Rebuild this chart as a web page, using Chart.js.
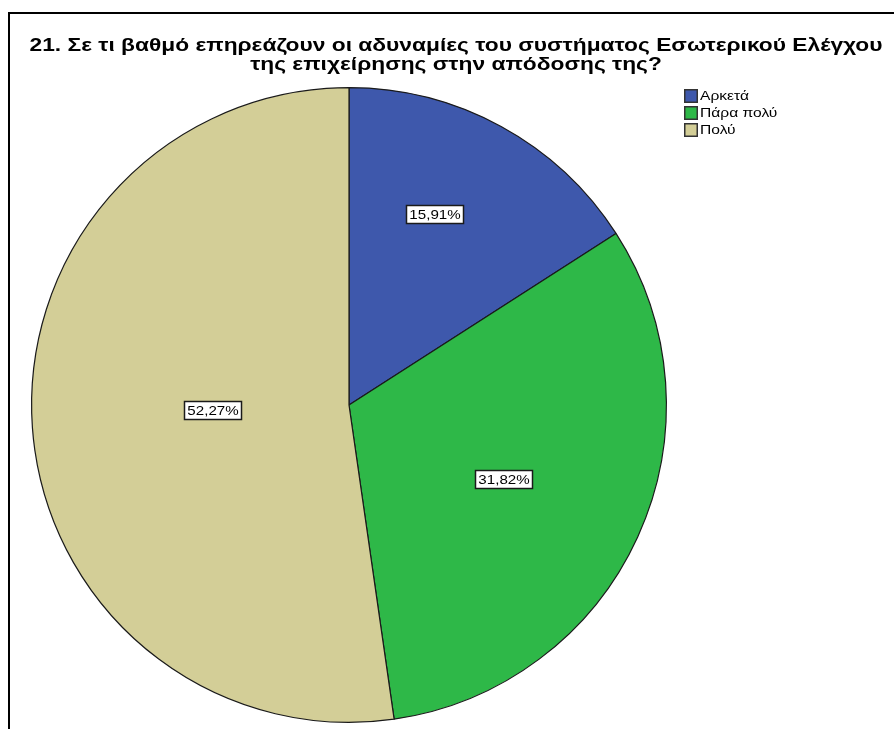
<!DOCTYPE html>
<html lang="el">
<head>
<meta charset="utf-8">
<title>21. Σε τι βαθμό επηρεάζουν οι αδυναμίες του συστήματος Εσωτερικού Ελέγχου</title>
<script src="https://cdn.jsdelivr.net/npm/chart.js@4/dist/chart.umd.min.js"></script>
<style>
  html, body { margin: 0; padding: 0; background: #ffffff; }
  #wrap { position: relative; width: 894px; height: 729px; }
  canvas { display: block; }
</style>
</head>
<body>
<div id="wrap"><canvas id="pie" width="894" height="729"></canvas></div>
<script>
// Survey answers and their shares (%)
const categories = ['Αρκετά', 'Πάρα πολύ', 'Πολύ'];
const percentages = [15.91, 31.82, 52.27];
const valueLabels = ['15,91%', '31,82%', '52,27%'];
const titleLines = [
  '21. Σε τι βαθμό επηρεάζουν οι αδυναμίες του συστήματος Εσωτερικού Ελέγχου',
  'της επιχείρησης στην απόδοσης της?'
];

const sliceColors = ['#3E58AC', '#2EB848', '#D3CE97'];
const FONT = '"Liberation Sans", Arial, sans-serif';

// Where each value box sits inside its slice: fraction of the radius
// and fraction of the slice's angular span.
const labelSpots = [
  { r: 0.66, t: 0.42 },
  { r: 0.54, t: 0.51 },
  { r: 0.43, t: 0.51 }
];

// Text drawn with a horizontal stretch (wide report-style lettering).
function wideText(ctx, txt, x, y, sx, align) {
  const w = ctx.measureText(txt).width * sx;
  let left = x;
  if (align === 'center') left = x - w / 2;
  else if (align === 'right') left = x - w;
  ctx.save();
  ctx.translate(left, y);
  ctx.scale(sx, 1);
  ctx.textAlign = 'left';
  ctx.fillText(txt, 0, 0);
  ctx.restore();
  return w;
}

const framePlugin = {
  id: 'frame',
  beforeDraw(chart) {
    const ctx = chart.ctx;
    ctx.save();
    ctx.fillStyle = '#ffffff';
    ctx.fillRect(0, 0, chart.width, chart.height);
    ctx.strokeStyle = '#000000';
    ctx.lineWidth = 2;
    ctx.beginPath();
    ctx.moveTo(9, chart.height + 5);
    ctx.lineTo(9, 13);
    ctx.lineTo(chart.width + 5, 13);
    ctx.stroke();
    ctx.restore();
  }
};

const headerPlugin = {
  id: 'header',
  afterDraw(chart) {
    const ctx = chart.ctx;
    ctx.save();
    ctx.fillStyle = '#000000';
    ctx.textBaseline = 'alphabetic';
    ctx.font = 'bold 19px ' + FONT;
    const sx = 853 / ctx.measureText(titleLines[0]).width;
    wideText(ctx, titleLines[0], 456, 51, sx, 'center');
    wideText(ctx, titleLines[1], 456, 69.5, sx, 'center');
    ctx.restore();
  }
};

const legendPlugin = {
  id: 'sideLegend',
  afterDraw(chart) {
    const ctx = chart.ctx;
    const x0 = 684, y0 = 89, box = 14, step = 17;
    ctx.save();
    ctx.font = '13px ' + FONT;
    ctx.textBaseline = 'middle';
    chart.data.labels.forEach((lab, i) => {
      const y = y0 + i * step;
      ctx.fillStyle = chart.data.datasets[0].backgroundColor[i];
      ctx.fillRect(x0, y, box, box);
      ctx.strokeStyle = '#333333';
      ctx.lineWidth = 1.5;
      ctx.strokeRect(x0 + 0.75, y + 0.75, box - 1.5, box - 1.5);
      ctx.fillStyle = '#000000';
      wideText(ctx, lab, x0 + box + 2, y + box / 2 + 0.5, 1.2, 'left');
    });
    ctx.restore();
  }
};

const valueBoxPlugin = {
  id: 'valueBoxes',
  afterDatasetsDraw(chart) {
    const ctx = chart.ctx;
    const meta = chart.getDatasetMeta(0);
    const sx = 1.12;
    ctx.save();
    ctx.font = '13.5px ' + FONT;
    ctx.textBaseline = 'middle';
    meta.data.forEach((arc, i) => {
      const p = arc.getProps(['x', 'y', 'startAngle', 'endAngle', 'outerRadius'], true);
      const spot = labelSpots[i];
      const ang = p.startAngle + (p.endAngle - p.startAngle) * spot.t;
      const cx = p.x + Math.cos(ang) * p.outerRadius * spot.r;
      const cy = p.y + Math.sin(ang) * p.outerRadius * spot.r;
      const txt = valueLabels[i];
      const w = Math.round(ctx.measureText(txt).width * sx) + 6;
      const h = 18;
      const bx = Math.round(cx - w / 2) + 0.5;
      const by = Math.round(cy - h / 2) + 0.5;
      ctx.fillStyle = '#ffffff';
      ctx.fillRect(bx, by, w, h);
      ctx.strokeStyle = '#1a1a1a';
      ctx.lineWidth = 1.5;
      ctx.strokeRect(bx, by, w, h);
      ctx.fillStyle = '#000000';
      wideText(ctx, txt, bx + w / 2, by + h / 2 + 0.5, sx, 'center');
    });
    ctx.restore();
  }
};

new Chart(document.getElementById('pie'), {
  type: 'pie',
  data: {
    labels: categories,
    datasets: [{
      data: percentages,
      backgroundColor: sliceColors,
      borderColor: '#1a1a1a',
      borderWidth: 1.2
    }]
  },
  options: {
    responsive: false,
    animation: false,
    layout: { padding: { left: 31, right: 227, top: 87, bottom: 6 } },
    plugins: {
      legend: { display: false },
      title: { display: false },
      tooltip: { enabled: false }
    }
  },
  plugins: [framePlugin, headerPlugin, legendPlugin, valueBoxPlugin]
});
</script>
</body>
</html>
